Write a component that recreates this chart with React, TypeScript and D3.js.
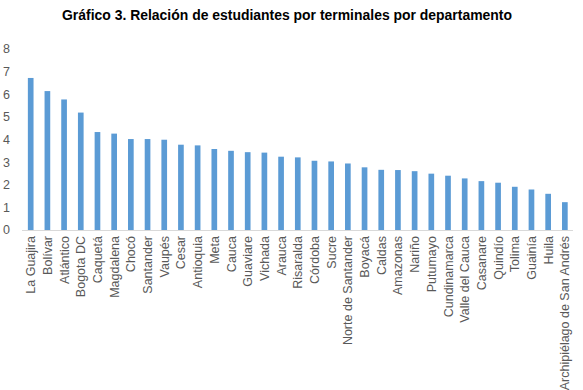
import React from "react";
import * as d3 from "d3";

const categories = [
  "La Guajira", "Bolívar", "Atlántico", "Bogota DC", "Caquetá", "Magdalena", "Chocó",
  "Santander", "Vaupés", "Cesar", "Antioquia", "Meta", "Cauca", "Guaviare", "Vichada",
  "Arauca", "Risaralda", "Córdoba", "Sucre", "Norte de Santander", "Boyacá", "Caldas",
  "Amazonas", "Nariño", "Putumayo", "Cundinamarca", "Valle del Cauca", "Casanare",
  "Quindío", "Tolima", "Guainía", "Huila", "Archipiélago de San Andrés",
];
const values = [
  6.72, 6.14, 5.77, 5.19, 4.33, 4.26, 4.02, 4.02, 3.99, 3.77, 3.74, 3.58, 3.5, 3.44,
  3.42, 3.24, 3.21, 3.06, 3.03, 2.94, 2.77, 2.66, 2.65, 2.6, 2.49, 2.4, 2.28, 2.16,
  2.09, 1.91, 1.79, 1.6, 1.23,
];
const yTicks = [0, 1, 2, 3, 4, 5, 6, 7, 8];
const title = "Gráfico 3. Relación de estudiantes por terminales por departamento";

export default function App() {
  const W = 583, H = 390;
  const x = d3.scaleBand<string>().domain(categories).range([22.35, 573.2]).paddingInner(0.66).paddingOuter(0.33);
  const y = d3.scaleLinear().domain([0, 8]).range([230, 49]);
  const font = "'Liberation Sans', Arial, Helvetica, sans-serif";
  return (
    <svg width={W} height={H} style={{ position: "absolute", left: 0, top: 0, background: "#fff" }} fontFamily={font}>
      <text x={62} y={20} fontSize={14.5} fontWeight="bold" fill="#000" textLength={450} lengthAdjust="spacingAndGlyphs">{title}</text>
      {yTicks.map((t) => (
        <text key={t} x={3} y={y(t)} dy="0.35em" fontSize={12.5} fill="#595959">{t}</text>
      ))}
      {values.map((v, i) => (
        <rect key={categories[i]} x={x(categories[i])} y={y(v)} width={x.bandwidth()} height={y(0) - y(v)} fill="#5B9BD5" />
      ))}
      <line x1={22} x2={573} y1={y(0) + 0.5} y2={y(0) + 0.5} stroke="#d9d9d9" strokeWidth={1} />
      {categories.map((c) => {
        const cx = (x(c) as number) + x.bandwidth() / 2;
        return (
          <text key={c} transform={`translate(${cx + 4.5},236) rotate(-90)`} textAnchor="end" fontSize={12.5} fill="#595959">{c}</text>
        );
      })}
    </svg>
  );
}
